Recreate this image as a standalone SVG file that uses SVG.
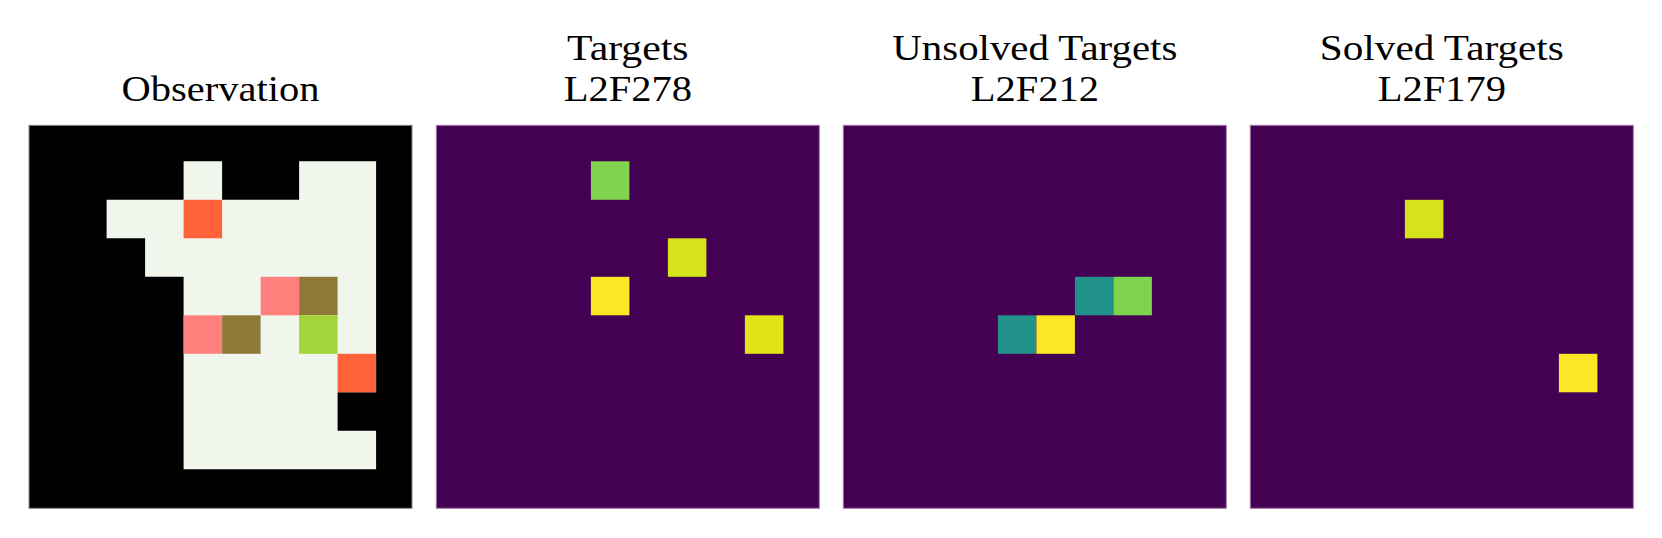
<svg xmlns="http://www.w3.org/2000/svg" width="1662" height="538" viewBox="0 0 1662 538">
<style>
.t{font-family:"Liberation Serif","Times New Roman",serif;font-size:36px;fill:#000;text-anchor:middle}
.obs{fill:#000;stroke:#8a8a8a;stroke-width:1}
.vir{fill:#440154;stroke:#a27aa8;stroke-width:1}
.lt{fill:#f1f6ed}
.rd{fill:#ff6139}
.pk{fill:#ff807c}
.ol{fill:#8d7a39}
.lm{fill:#a3d43a}
.gn{fill:#80d34c}
.yl{fill:#fde725}
.y1{fill:#d6e21a}
.y2{fill:#e2e418}
.tl{fill:#21918c}
</style>
<rect width="1662" height="538" fill="#fff"/>
<g id="observation">
<text class="t" x="220.5" y="100.5" textLength="198" lengthAdjust="spacingAndGlyphs">Observation</text>
<rect class="obs" x="29" y="125.3" width="383" height="383"/>
<path class="lt" d="M183.6 161.3H222.1V199.8H299.1V161.3H376.1V392.3H337.6V430.8H376.1V469.3H183.6V276.8H145.1V238.3H106.6V199.8H183.6Z"/>
<rect class="rd" x="183.6" y="199.8" width="38.5" height="38.5"/>
<rect class="pk" x="260.6" y="276.8" width="38.5" height="38.5"/>
<rect class="ol" x="299.1" y="276.8" width="38.5" height="38.5"/>
<rect class="pk" x="183.6" y="315.3" width="38.5" height="38.5"/>
<rect class="ol" x="222.1" y="315.3" width="38.5" height="38.5"/>
<rect class="lm" x="299.1" y="315.3" width="38.5" height="38.5"/>
<rect class="rd" x="337.6" y="353.8" width="38.5" height="38.5"/>
</g>
<g id="targets">
<text class="t" x="627.8" y="60" textLength="121.5" lengthAdjust="spacingAndGlyphs">Targets</text>
<text class="t" x="627.8" y="100.5" textLength="128.3" lengthAdjust="spacingAndGlyphs">L2F278</text>
<rect class="vir" x="436.3" y="125.3" width="383" height="383"/>
<rect class="gn" x="590.9" y="161.3" width="38.5" height="38.5"/>
<rect class="y1" x="667.9" y="238.3" width="38.5" height="38.5"/>
<rect class="yl" x="590.9" y="276.8" width="38.5" height="38.5"/>
<rect class="y2" x="744.9" y="315.3" width="38.5" height="38.5"/>
</g>
<g id="unsolved">
<text class="t" x="1034.8" y="60" textLength="285" lengthAdjust="spacingAndGlyphs">Unsolved Targets</text>
<text class="t" x="1034.8" y="100.5" textLength="128.3" lengthAdjust="spacingAndGlyphs">L2F212</text>
<rect class="vir" x="843.3" y="125.3" width="383" height="383"/>
<rect class="tl" x="1074.9" y="276.8" width="38.5" height="38.5"/>
<rect class="gn" x="1113.4" y="276.8" width="38.5" height="38.5"/>
<rect class="tl" x="997.9" y="315.3" width="38.5" height="38.5"/>
<rect class="yl" x="1036.4" y="315.3" width="38.5" height="38.5"/>
</g>
<g id="solved">
<text class="t" x="1441.8" y="60" textLength="244" lengthAdjust="spacingAndGlyphs">Solved Targets</text>
<text class="t" x="1441.8" y="100.5" textLength="128.3" lengthAdjust="spacingAndGlyphs">L2F179</text>
<rect class="vir" x="1250.3" y="125.3" width="383" height="383"/>
<rect class="y1" x="1404.9" y="199.8" width="38.5" height="38.5"/>
<rect class="yl" x="1558.9" y="353.8" width="38.5" height="38.5"/>
</g>
<g id="connectors"/>
</svg>
